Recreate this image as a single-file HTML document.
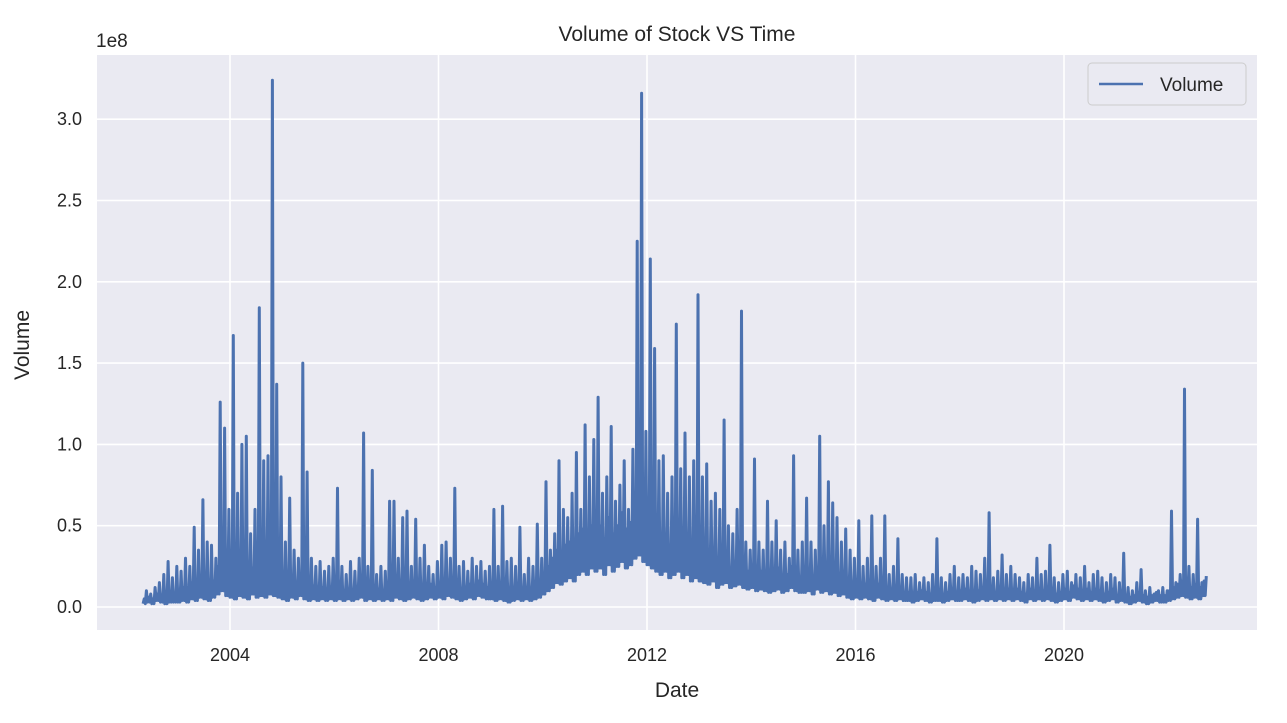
<!DOCTYPE html>
<html><head><meta charset="utf-8"><style>
body{margin:0;background:#fff;}
svg text{font-family:"Liberation Sans","DejaVu Sans",sans-serif;fill:#262626;}
</style></head><body>
<svg id="chart" width="1287" height="718" xmlns="http://www.w3.org/2000/svg">
<rect x="97" y="55" width="1160" height="575" fill="#eaeaf2"/>
<g id="grid"></g>
<g id="ticks"></g>
<path id="line" fill="none" stroke="#4c72b0" stroke-width="3" stroke-linejoin="round"/>
<text x="677" y="41" font-size="21" text-anchor="middle">Volume of Stock VS Time</text>
<text x="96" y="47" font-size="19">1e8</text>
<text x="677" y="697" font-size="21" text-anchor="middle">Date</text>
<text transform="translate(29,345) rotate(-90)" font-size="21" text-anchor="middle">Volume</text>
<g>
<rect x="1088" y="63" width="158" height="42" rx="4" fill="#eaeaf2" stroke="#ccc" stroke-width="1"/>
<line x1="1099" y1="84" x2="1143" y2="84" stroke="#4c72b0" stroke-width="2.5"/>
<text x="1160" y="91" font-size="19">Volume</text>
</g>
</svg>
<script>
const years=[2002,2003,2004,2005,2006,2007,2008,2009,2010,2011,2012,2013,2014,2015,2016,2017,2018,2019,2020,2021,2022];
const monthlyHighs=[
[null,null,null,null,10,8,12,15,20,28,18,25],
[22,30,25,49,35,66,40,38,30,126,110,60],
[167,70,100,105,45,60,184,90,93,324,137,80],
[40,67,35,30,150,83,30,25,28,22,25,30],
[73,25,20,28,22,30,107,25,84,20,25,22],
[65,65,30,55,59,25,54,30,38,25,20,28],
[38,40,30,73,25,28,22,30,25,28,22,25],
[60,25,62,28,30,25,49,20,30,25,51,30],
[77,35,45,90,60,55,70,95,60,112,80,103],
[129,70,80,111,65,75,90,60,97,225,316,108],
[214,159,90,93,70,80,174,85,107,80,90,192],
[80,88,65,70,60,115,50,45,60,182,40,35],
[91,40,35,65,40,53,35,40,30,93,35,40],
[67,40,35,105,50,77,64,55,40,48,35,30],
[53,25,30,56,25,30,56,20,25,42,20,18],
[18,20,15,18,15,20,42,18,15,20,25,18],
[20,18,25,22,20,30,58,18,22,32,20,25],
[20,18,15,20,18,30,20,22,38,18,15,20],
[22,15,20,18,25,15,20,22,18,15,20,18],
[15,33,12,10,15,23,10,12,8,10,12,10],
[59,15,20,134,25,20,54,15,19,null,null,null]];
const monthlyLows=[
[null,null,null,null,2,3,2,4,3,2,3,3],
[3,4,3,5,4,6,5,4,6,8,10,7],
[6,5,7,6,5,8,6,7,6,8,7,6],
[5,4,6,5,7,5,4,5,4,5,4,5],
[4,5,4,5,4,5,6,4,5,4,5,4],
[5,4,6,5,4,5,6,5,4,5,6,5],
[6,5,7,6,5,4,5,6,5,7,6,5],
[5,4,5,4,3,4,5,4,5,4,5,6],
[8,10,12,15,14,16,18,16,20,22,20,24],
[22,24,20,26,22,25,28,24,26,30,32,28],
[26,24,22,20,22,18,20,22,18,20,16,18],
[16,15,14,16,12,14,15,12,13,14,12,11],
[12,10,11,10,9,10,11,9,10,12,10,9],
[9,10,8,11,9,10,8,9,7,8,6,5],
[6,5,6,5,4,6,5,4,5,4,5,4],
[4,3,4,5,4,3,4,4,3,4,5,4],
[4,5,4,3,4,5,4,5,4,5,4,5],
[4,5,4,3,5,4,5,4,5,4,3,4],
[5,4,6,5,4,5,4,5,4,3,4,5],
[3,4,3,2,3,4,3,2,3,4,3,3],
[4,5,6,7,6,5,6,5,7,null,null,null]];
const monthlyTypical=[
[null,null,null,null,5,6,5,8,7,6,9,8],
[9,12,10,15,12,18,14,12,16,25,30,20],
[20,18,25,22,16,24,20,28,22,30,26,20],
[15,12,16,14,20,14,12,13,11,12,10,12],
[10,12,9,11,10,12,14,10,12,9,11,10],
[12,10,14,12,11,13,15,12,10,12,14,12],
[14,12,16,15,12,10,12,14,12,16,14,12],
[12,10,13,11,9,10,13,10,12,11,13,15],
[20,25,30,35,32,38,40,36,45,48,42,50],
[45,50,42,55,45,50,58,48,52,60,65,55],
[52,48,45,40,44,38,42,45,38,40,34,36],
[32,30,28,32,25,28,30,24,26,28,24,22],
[24,20,22,20,18,22,24,18,20,25,20,18],
[18,22,16,24,18,22,18,20,15,16,13,11],
[14,12,14,12,10,14,12,10,11,9,11,9],
[9,8,9,10,9,8,9,9,7,9,10,9],
[10,11,9,8,10,12,10,11,9,12,10,11],
[9,11,9,8,11,9,11,10,12,9,8,9],
[11,9,13,11,10,11,9,11,10,8,9,11],
[7,9,7,6,7,9,7,6,7,9,7,7],
[10,12,14,16,14,12,14,12,16,null,null,null]];
const xTicks=[2004,2008,2012,2016,2020];
const yTicks=[0,0.5,1.0,1.5,2.0,2.5,3.0];

const X=t=>230+(t-2004)*(834/16);
const Y=v=>607-v*(81.3/50); // v in 1e6
const NS='http://www.w3.org/2000/svg';
const grid=document.getElementById('grid'),ticks=document.getElementById('ticks');
yTicks.forEach(v=>{
  const y=Y(v*100);
  const l=document.createElementNS(NS,'line');
  
  
  l.setAttribute('x1',97);l.setAttribute('x2',1257);l.setAttribute('y1',y);l.setAttribute('y2',y);
  l.setAttribute('stroke','#fff');l.setAttribute('stroke-width','1.6');grid.appendChild(l);
  const t=document.createElementNS(NS,'text');
  
  
  t.setAttribute('x',82);t.setAttribute('y',y+6);t.setAttribute('font-size','18');t.setAttribute('text-anchor','end');
  t.textContent=v.toFixed(1);ticks.appendChild(t);
});
xTicks.forEach(v=>{
  const x=X(v);
  const l=document.createElementNS(NS,'line');
  
  
  l.setAttribute('x1',x);l.setAttribute('x2',x);l.setAttribute('y1',55);l.setAttribute('y2',630);
  l.setAttribute('stroke','#fff');l.setAttribute('stroke-width','1.6');grid.appendChild(l);
  const t=document.createElementNS(NS,'text');
  
  
  t.setAttribute('x',x);t.setAttribute('y',661);t.setAttribute('font-size','18');t.setAttribute('text-anchor','middle');
  t.textContent=v;ticks.appendChild(t);
});
let d='';
years.forEach((yr,i)=>{
  monthlyHighs[i].forEach((h,m)=>{
    if(h==null)return;
    const lo=monthlyLows[i][m],ty=monthlyTypical[i][m];
    const pts=[[0,lo],[0.25,Math.min(ty,h)],[0.5,lo],[0.75,h]];
    pts.forEach(([o,v])=>{
      d+=(d?'L':'M')+X(yr+(m+o)/12).toFixed(1)+','+Y(v).toFixed(1);
    });
  });
});
document.getElementById('line').setAttribute('d',d);
</script>
</body></html>
